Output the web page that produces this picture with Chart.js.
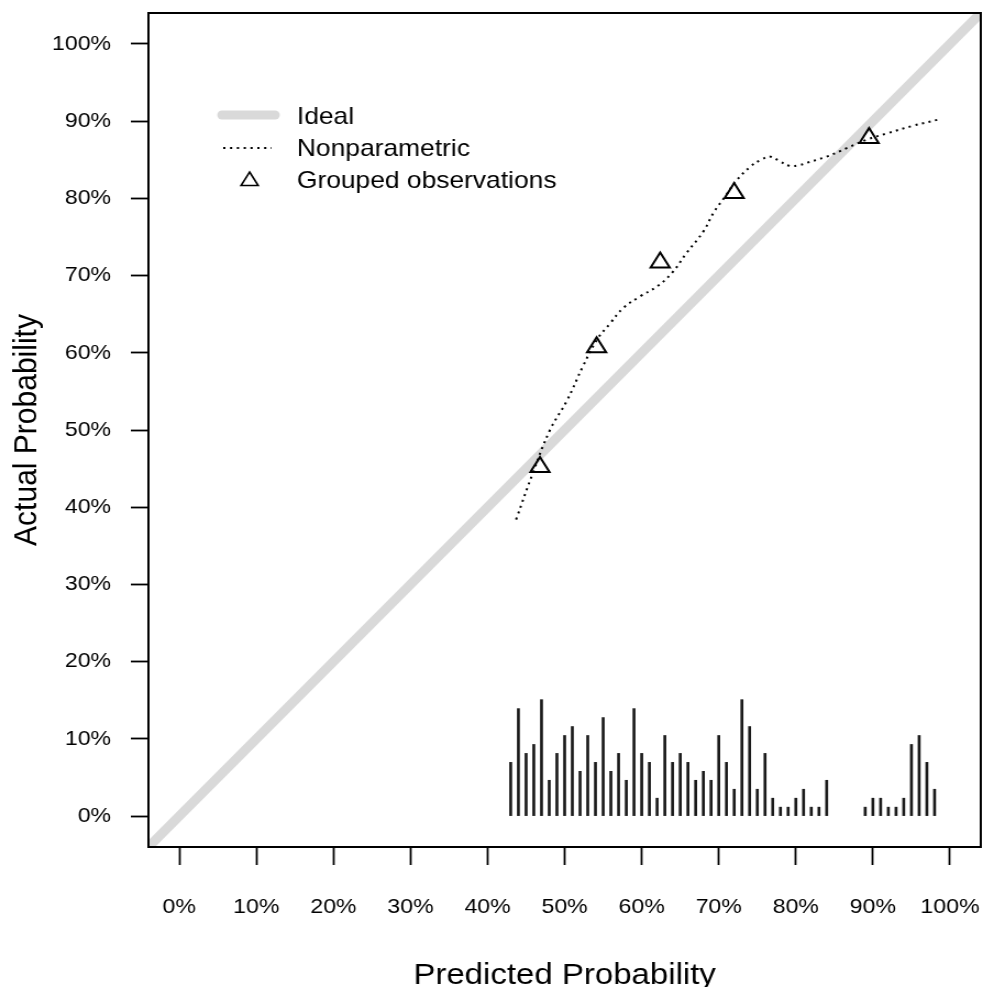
<!DOCTYPE html>
<html>
<head>
<meta charset="utf-8">
<title>Calibration plot</title>
<script src="https://cdn.jsdelivr.net/npm/chart.js@4.4.0/dist/chart.umd.min.js"></script>
<style>
  html, body { margin: 0; padding: 0; background: #ffffff; overflow: hidden; }
  #wrap { width: 983px; height: 987px; }
  /* the original figure is a little wider than tall in its text, so the
     canvas is drawn narrower and stretched to the page width */
  #calibChart { display: block; width: 983px; height: 987px; }
</style>
</head>
<body>
<div id="wrap"><canvas id="calibChart" width="894" height="987" style="width:983px;height:987px"></canvas></div>
<script>
// axis range (R style, 4% extension on each side)
const axisMin = -0.04;
const axisMax = 1.04;
const tickValues = [0, 0.1, 0.2, 0.3, 0.4, 0.5, 0.6, 0.7, 0.8, 0.9, 1.0];
const tickLabels = ['0%', '10%', '20%', '30%', '40%', '50%', '60%', '70%', '80%', '90%', '100%'];

// nonparametric (loess) calibration curve
const npX = [0.437, 0.459, 0.481, 0.503, 0.524, 0.542, 0.559, 0.576, 0.598, 0.620,
             0.639, 0.658, 0.680, 0.693, 0.708, 0.722, 0.741, 0.755, 0.767, 0.779,
             0.792, 0.805, 0.814, 0.840, 0.866, 0.892, 0.918, 0.952, 0.985];
const npY = [0.384, 0.445, 0.500, 0.538, 0.583, 0.617, 0.638, 0.658, 0.673, 0.686,
             0.703, 0.729, 0.757, 0.781, 0.802, 0.822, 0.841, 0.850, 0.854, 0.848,
             0.842, 0.843, 0.846, 0.854, 0.865, 0.876, 0.884, 0.894, 0.902];

// grouped observations
const groupX = [0.468, 0.5415, 0.624, 0.720, 0.895];
const groupY = [0.452, 0.607, 0.717, 0.807, 0.878];

// spike histogram of predicted probabilities
const spikeX = [0.43, 0.44, 0.45, 0.46, 0.47, 0.48, 0.49, 0.50, 0.51, 0.52,
                0.53, 0.54, 0.55, 0.56, 0.57, 0.58, 0.59, 0.60, 0.61, 0.62,
                0.63, 0.64, 0.65, 0.66, 0.67, 0.68, 0.69, 0.70, 0.71, 0.72,
                0.73, 0.74, 0.75, 0.76, 0.77, 0.78, 0.79, 0.80, 0.81, 0.82,
                0.83, 0.84,
                0.89, 0.90, 0.91, 0.92, 0.93, 0.94, 0.95, 0.96, 0.97, 0.98];
const spikeCount = [6, 12, 7, 8, 13, 4, 7, 9, 10, 5,
                    9, 6, 11, 5, 7, 4, 12, 7, 6, 2,
                    9, 6, 7, 6, 4, 5, 4, 9, 6, 3,
                    13, 10, 3, 7, 2, 1, 1, 2, 3, 1,
                    1, 4,
                    1, 2, 2, 1, 1, 2, 8, 9, 6, 3];
const spikeUnit = 0.0116;

const fontFamily = '"Liberation Sans", Arial, Helvetica, sans-serif';

// box round the plot region
const boxPlugin = {
    id: 'plotBox',
    afterDatasetsDraw(chart) {
        const a = chart.chartArea;
        const ctx = chart.ctx;
        ctx.save();
        ctx.strokeStyle = '#000';
        ctx.lineWidth = 2;
        ctx.strokeRect(a.left, a.top, a.right - a.left, a.bottom - a.top);
        ctx.restore();
    }
};

// legend inside the plot, like R's legend()
const legendPlugin = {
    id: 'innerLegend',
    afterDatasetsDraw(chart) {
        const ctx = chart.ctx;
        const ds = chart.data.datasets;
        const a = chart.chartArea;
        const tx = a.left + 135;
        const rows = [a.top + 103, a.top + 136, a.top + 168];
        ctx.save();
        // Ideal
        ctx.lineCap = 'round';
        ctx.strokeStyle = ds[0].borderColor;
        ctx.lineWidth = 9;
        ctx.beginPath();
        ctx.moveTo(a.left + 67, rows[0] - 1);
        ctx.lineTo(a.left + 115, rows[0] - 1);
        ctx.stroke();
        // Nonparametric
        ctx.lineCap = 'butt';
        ctx.strokeStyle = '#000';
        ctx.lineWidth = 2;
        ctx.setLineDash(ds[2].borderDash);
        ctx.beginPath();
        ctx.moveTo(a.left + 68, rows[1] - 1);
        ctx.lineTo(a.left + 112, rows[1] - 1);
        ctx.stroke();
        ctx.setLineDash([]);
        // Grouped observations (open triangle)
        const cx = a.left + 92, cy = rows[2];
        const r = 9;
        ctx.lineWidth = 1.6;
        ctx.beginPath();
        ctx.moveTo(cx, cy - r);
        ctx.lineTo(cx + r * Math.sin(2 * Math.PI / 3), cy + r / 2);
        ctx.lineTo(cx - r * Math.sin(2 * Math.PI / 3), cy + r / 2);
        ctx.closePath();
        ctx.stroke();
        // texts
        ctx.fillStyle = '#000';
        ctx.font = '24px ' + fontFamily;
        ctx.textBaseline = 'middle';
        ctx.textAlign = 'left';
        ctx.fillText(ds[0].label, tx, rows[0] + 1);
        ctx.fillText(ds[2].label, tx, rows[1]);
        ctx.fillText(ds[3].label, tx, rows[2]);
        ctx.restore();
    }
};

const ctx = document.getElementById('calibChart').getContext('2d');

const calibChart = new Chart(ctx, {
    type: 'scatter',
    data: {
        datasets: [
            {
                type: 'line',
                label: 'Ideal',
                data: [axisMin, axisMax].map(v => ({x: v, y: v})),
                borderColor: '#d9d9d9',
                borderWidth: 9,
                pointRadius: 0,
                clip: 0,
                order: 4
            },
            {
                type: 'bar',
                label: 'Spikes',
                data: spikeX.map((x, i) => ({x: x, y: spikeCount[i] * spikeUnit})),
                backgroundColor: '#1a1a1a',
                borderWidth: 0,
                barThickness: 2,
                order: 3
            },
            {
                type: 'line',
                label: 'Nonparametric',
                data: npX.map((x, i) => ({x: x, y: npY[i]})),
                borderColor: '#000',
                borderWidth: 2,
                borderDash: [2, 4.2],
                pointRadius: 0,
                tension: 0.4,
                fill: false,
                order: 2
            },
            {
                type: 'scatter',
                label: 'Grouped observations',
                data: groupX.map((x, i) => ({x: x, y: groupY[i]})),
                pointStyle: 'triangle',
                pointRadius: 10,
                pointBorderWidth: 2,
                pointBorderColor: '#000',
                pointBackgroundColor: 'rgba(0,0,0,0)',
                order: 1
            }
        ]
    },
    options: {
        responsive: false,
        animation: false,
        events: [],
        layout: {
            autoPadding: false,
            padding: {top: 13, right: 2, left: 0, bottom: 0}
        },
        plugins: {
            legend: {display: false},
            tooltip: {enabled: false}
        },
        scales: {
            x: {
                type: 'linear',
                position: 'bottom',
                min: axisMin,
                max: axisMax,
                offset: false,
                afterBuildTicks: function(scale) {
                    scale.ticks = tickValues.map(v => ({value: v}));
                },
                afterFit: function(scale) {
                    scale.height = 140;
                    scale.paddingLeft = 0;
                    scale.paddingRight = 0;
                },
                ticks: {
                    autoSkip: false,
                    maxRotation: 0,
                    padding: 30,
                    color: '#000',
                    font: {family: fontFamily, size: 21},
                    callback: function(value, index) {
                        return tickLabels[index];
                    }
                },
                grid: {
                    display: true,
                    offset: false,
                    drawOnChartArea: false,
                    drawTicks: true,
                    tickLength: 18,
                    tickColor: '#000',
                    tickWidth: 1.8
                },
                border: {display: false},
                title: {
                    display: true,
                    text: 'Predicted Probability',
                    color: '#000',
                    font: {family: fontFamily, size: 30, lineHeight: 1},
                    padding: {top: 0, bottom: -4}
                }
            },
            y: {
                type: 'linear',
                position: 'left',
                min: axisMin,
                max: axisMax,
                afterBuildTicks: function(scale) {
                    scale.ticks = tickValues.map(v => ({value: v}));
                },
                afterFit: function(scale) {
                    scale.width = 135;
                    scale.paddingTop = 0;
                    scale.paddingBottom = 0;
                },
                ticks: {
                    autoSkip: false,
                    padding: 18,
                    color: '#000',
                    font: {family: fontFamily, size: 21},
                    callback: function(value, index) {
                        return tickLabels[index];
                    }
                },
                grid: {
                    display: true,
                    offset: false,
                    drawOnChartArea: false,
                    drawTicks: true,
                    tickLength: 16,
                    tickColor: '#000',
                    tickWidth: 1.8
                },
                border: {display: false},
                title: {
                    display: true,
                    text: 'Actual Probability',
                    color: '#000',
                    font: {family: fontFamily, size: 30, lineHeight: 1},
                    padding: {top: 10, bottom: 0}
                }
            }
        }
    },
    plugins: [boxPlugin, legendPlugin]
});
</script>
</body>
</html>
